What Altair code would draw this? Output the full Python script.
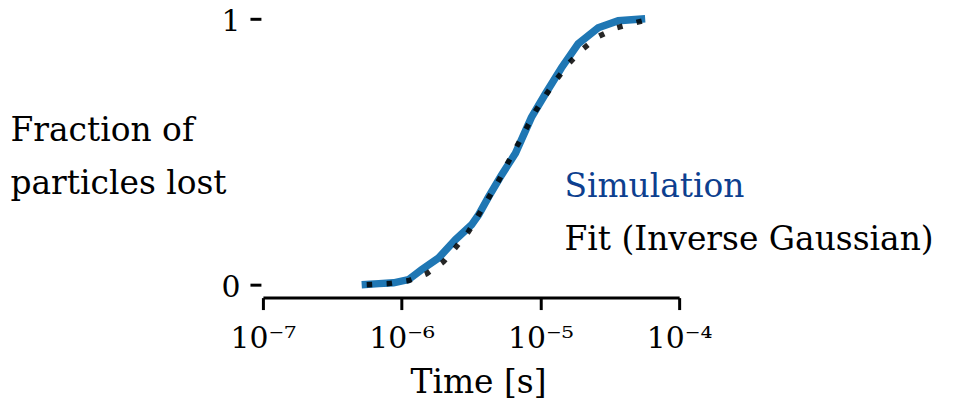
import altair as alt
import pandas as pd

# Simulation curve (time in s, fraction lost)
sim_time = [5.15e-7, 6.84e-7, 8.74e-7, 1.12e-6, 1.39e-6, 1.85e-6, 2.44e-6, 3.19e-6,
            3.58e-6, 4.23e-6, 5.24e-6, 6.61e-6, 8.61e-6, 1.09e-5, 1.42e-5, 1.87e-5,
            2.61e-5, 3.64e-5, 5.69e-5]
sim_frac = [0.0, 0.004, 0.007, 0.019, 0.056, 0.101, 0.169, 0.225,
            0.262, 0.330, 0.412, 0.494, 0.629, 0.719, 0.816, 0.906,
            0.966, 0.993, 1.0]

# Inverse Gaussian fit
fit_time = [5.60e-7, 8.05e-7, 1.12e-6, 1.51e-6, 2.00e-6, 2.44e-6, 3.03e-6, 3.58e-6,
            4.23e-6, 4.99e-6, 5.80e-6, 6.95e-6, 9.20e-6, 1.10e-5, 1.32e-5, 1.62e-5,
            2.04e-5, 2.61e-5, 3.52e-5, 4.82e-5, 5.80e-5]
fit_frac = [0.0, 0.004, 0.015, 0.041, 0.086, 0.139, 0.199, 0.262,
            0.326, 0.390, 0.457, 0.532, 0.652, 0.715, 0.775, 0.835,
            0.888, 0.933, 0.966, 0.985, 0.996]

x_ticks = [1e-7, 1e-6, 1e-5, 1e-4]
x_tick_labels = ["10⁻⁷", "10⁻⁶", "10⁻⁵", "10⁻⁴"]
y_ticks = [0, 1]

series_names = ["Simulation", "Fit (Inverse Gaussian)"]
label_time = [1.49e-5, 1.49e-5]
label_frac = [0.330, 0.131]
label_colors = ["#0d3f8f", "#000000"]

FONT = "DejaVu Serif"
FS = 33
TICK_FS = 30

sim_df = pd.DataFrame({"t": sim_time, "f": sim_frac})
fit_df = pd.DataFrame({"t": fit_time, "f": fit_frac})
lab_df = pd.DataFrame({"t": label_time, "f": label_frac, "name": series_names})

label_expr = " : ".join(
    f"datum.value < {v * 3:g} ? '{l}'" for v, l in zip(x_ticks[:-1], x_tick_labels[:-1])
) + f" : '{x_tick_labels[-1]}'"

x_scale = alt.Scale(type="log", domain=[x_ticks[0], x_ticks[-1]])
y_scale = alt.Scale(domain=[0, 1])

x_axis = alt.Axis(
    values=x_ticks, labelExpr=label_expr, title="Time [s]", grid=False,
    offset=13, domainWidth=3, domainColor="black", tickWidth=3, tickColor="black",
    tickSize=12, labelFontSize=TICK_FS, labelFont=FONT, labelColor="black",
    labelBaseline="alphabetic", labelPadding=38, labelFlush=False,
    titleFontSize=FS, titleFont=FONT, titleFontWeight="normal",
    titleColor="black", titleBaseline="alphabetic", titleAlign="center",
    titleX=216, titleY=95,
)
y_axis = alt.Axis(
    values=y_ticks, format="d", title=["Fraction of", "particles lost"], grid=False,
    domain=False, offset=2, tickWidth=3, tickColor="black", tickSize=11,
    labelFontSize=TICK_FS, labelFont=FONT, labelColor="black", labelPadding=10,
    labelOffset=3,
    titleFontSize=FS, titleFont=FONT, titleFontWeight="normal", titleColor="black",
    titleAngle=0, titleAlign="left", titleBaseline="alphabetic",
    titleX=-252, titleY=122, titleLineHeight=53,
)

sim = alt.Chart(sim_df).mark_line(color="#1f77b4", strokeWidth=7.5).encode(
    x=alt.X("t:Q", scale=x_scale, axis=x_axis),
    y=alt.Y("f:Q", scale=y_scale, axis=y_axis),
)
fit = alt.Chart(fit_df).mark_line(
    color="#000000", strokeWidth=5.5, strokeDash=[5.5, 14.5], opacity=0.85
).encode(x=alt.X("t:Q", scale=x_scale), y=alt.Y("f:Q", scale=y_scale))

labels = alt.Chart(lab_df).mark_text(
    align="left", baseline="alphabetic", font=FONT, fontSize=FS
).encode(
    x=alt.X("t:Q", scale=x_scale),
    y=alt.Y("f:Q", scale=y_scale),
    text="name:N",
    color=alt.Color("name:N", scale=alt.Scale(domain=series_names, range=label_colors), legend=None),
)

chart = (sim + fit + labels).properties(
    width=418, height=267,
    autosize=alt.AutoSizeParams(type="none"),
    padding={"left": 256, "top": 10, "right": 271, "bottom": 122},
).configure_view(stroke=None)

chart.save("out.html", embed_options={"renderer": "svg", "actions": False})
